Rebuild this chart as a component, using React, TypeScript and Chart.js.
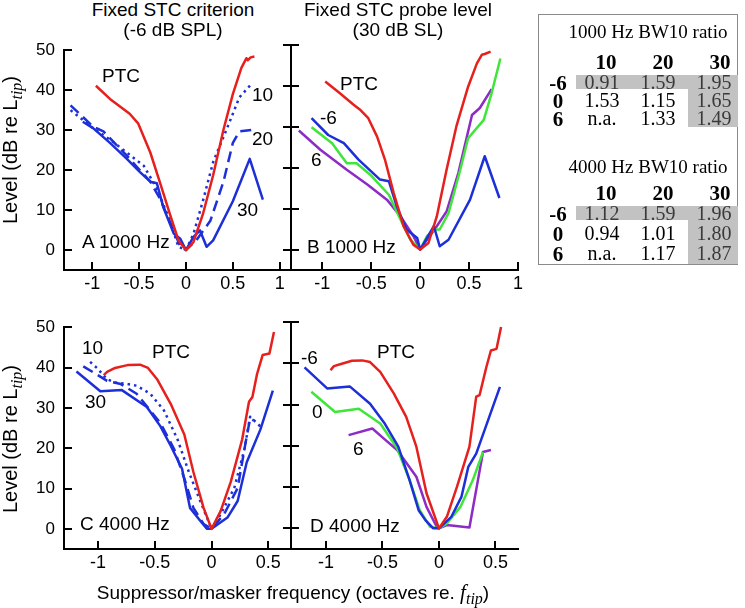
import React, { useEffect, useRef } from 'react';
import { Chart, registerables } from 'chart.js';
Chart.register(...registerables);

type Pts = [number, number][];

// ---------- data ----------
const X_TICKS_TOP = [-1, -0.5, 0, 0.5, 1];
const X_TICKS_BOTTOM = [-1, -0.5, 0, 0.5];
const Y_TICKS = [0, 10, 20, 30, 40, 50];

// Panel A: 1000 Hz, fixed STC criterion
const A_PTC: Pts = [[-0.96,41.1],[-0.81,37.8],[-0.60,34.1],[-0.51,31.7],[-0.38,24.4],[-0.28,17.1],[-0.17,8.9],[-0.08,2.4],[0,0],[0.08,2.0],[0.18,8.9],[0.29,18.7],[0.40,30.1],[0.50,39.0],[0.59,45.5],[0.645,48.0],[0.66,47.5],[0.69,48.2],[0.73,48.4]];
const A_10: Pts = [[-1.23,35.0],[-0.99,30.5],[-0.81,27.6],[-0.63,24.4],[-0.45,21.1],[-0.31,15.4],[-0.17,7.3],[-0.08,0.8],[0,0],[0.08,4.0],[0.18,12.2],[0.29,22.0],[0.43,30.0],[0.57,38.2],[0.70,41.6]];
const A_20: Pts = [[-1.23,36.2],[-0.99,30.9],[-0.88,29.7],[-0.63,23.6],[-0.38,17.1],[-0.28,13.0],[-0.13,4.9],[-0.06,0.8],[0,0],[0.11,2.4],[0.26,7.3],[0.40,17.1],[0.50,26.8],[0.57,29.7],[0.72,30.1]];
const A_30: Pts = [[-1.10,32.1],[-0.99,30.5],[-0.81,26.8],[-0.63,22.8],[-0.49,19.5],[-0.38,17.1],[-0.31,16.7],[-0.24,10.6],[-0.13,4.1],[-0.06,2.8],[0,0],[0.08,3.3],[0.15,4.9],[0.22,0.8],[0.29,2.4],[0.50,12.2],[0.68,22.8],[0.82,12.6]];

// Panel B: 1000 Hz, fixed STC probe level
const B_PTC: Pts = [[-0.97,41.1],[-0.82,38.2],[-0.68,35.4],[-0.61,34.1],[-0.53,32.1],[-0.44,27.6],[-0.36,22.0],[-0.27,13.8],[-0.17,5.7],[-0.07,1.2],[0,0],[0.085,1.6],[0.17,8.1],[0.27,19.5],[0.37,30.1],[0.49,39.8],[0.58,45.5],[0.63,47.6],[0.66,47.8],[0.72,48.4]];
const B_M6: Pts = [[-1.11,32.1],[-0.94,28.0],[-0.78,26.0],[-0.63,22.0],[-0.41,17.1],[-0.32,16.7],[-0.24,10.6],[-0.14,4.9],[-0.03,2.8],[0,0],[0.14,5.7],[0.20,0.8],[0.29,2.4],[0.51,12.2],[0.66,22.8],[0.81,12.6]];
const B_0: Pts = [[-1.11,29.9],[-0.90,26.0],[-0.75,21.1],[-0.65,21.1],[-0.51,18.3],[-0.32,13.4],[-0.20,7.3],[-0.10,2.4],[0,0],[0.07,3.3],[0.15,4.9],[0.20,4.9],[0.29,8.9],[0.41,19.5],[0.49,27.2],[0.65,31.7],[0.73,38.2],[0.82,46.7]];
const B_6: Pts = [[-1.24,29.1],[-1.02,24.4],[-0.75,19.5],[-0.54,15.9],[-0.34,12.2],[-0.20,8.1],[-0.07,3.3],[0,0],[0.07,2.4],[0.17,5.7],[0.27,9.3],[0.39,18.7],[0.53,32.9],[0.61,34.6],[0.73,39.2]];

// Panel C: 4000 Hz, fixed STC criterion
const C_PTC: Pts = [[-0.95,38.1],[-0.92,38.9],[-0.85,39.9],[-0.74,40.6],[-0.63,40.7],[-0.56,39.9],[-0.48,37.1],[-0.36,31.0],[-0.24,23.4],[-0.16,14.1],[-0.07,5.2],[0,0],[0.08,4.4],[0.17,11.7],[0.27,22.2],[0.33,31.5],[0.36,32.7],[0.40,38.3],[0.45,43.1],[0.51,43.5],[0.55,48.8]];
const C_10: Pts = [[-1.07,41.4],[-1.01,39.9],[-0.92,37.1],[-0.85,36.3],[-0.74,35.9],[-0.66,35.5],[-0.54,33.5],[-0.42,29.4],[-0.30,22.2],[-0.20,14.1],[-0.10,6.9],[0,0],[0.08,3.6],[0.20,10.1],[0.29,19.8],[0.34,27.8],[0.40,26.2],[0.43,25.4]];
const C_20: Pts = [[-1.13,40.3],[-0.92,36.7],[-0.80,35.9],[-0.66,33.5],[-0.45,26.2],[-0.33,19.8],[-0.24,12.5],[-0.16,5.2],[-0.07,1.2],[0,0],[0.11,3.6],[0.23,10.1],[0.30,21.4],[0.34,27.4],[0.37,26.9]];
const C_30: Pts = [[-1.19,39.0],[-0.98,34.1],[-0.79,34.4],[-0.57,30.2],[-0.45,25.4],[-0.36,20.6],[-0.26,14.9],[-0.19,5.2],[-0.10,2.0],[-0.04,0],[0,0],[0.14,2.8],[0.23,6.9],[0.31,16.5],[0.43,24.6],[0.54,34.3]];

// Panel D: 4000 Hz, fixed STC probe level
const D_PTC: Pts = [[-0.96,38.3],[-0.93,39.3],[-0.86,39.9],[-0.77,40.6],[-0.68,40.7],[-0.61,40.3],[-0.52,37.9],[-0.40,32.7],[-0.29,27.0],[-0.20,19.8],[-0.11,8.5],[0,0],[0.07,2.8],[0.16,10.1],[0.27,19.8],[0.33,31.9],[0.36,32.3],[0.42,39.1],[0.46,43.1],[0.51,43.5],[0.55,48.8]];
const D_M6: Pts = [[-1.19,39.0],[-0.99,33.9],[-0.79,34.4],[-0.61,30.2],[-0.48,25.4],[-0.36,19.8],[-0.26,11.7],[-0.18,4.4],[-0.12,2.0],[-0.05,0],[0,0],[0.11,2.8],[0.20,7.7],[0.26,14.9],[0.33,18.1],[0.54,34.3]];
const D_0: Pts = [[-1.13,33.1],[-0.92,28.2],[-0.71,29.0],[-0.52,25.4],[-0.37,19.4],[-0.26,11.7],[-0.17,4.4],[-0.08,0.4],[0,0],[0.07,1.2],[0.19,5.2],[0.30,11.7],[0.39,18.5]];
const D_6: Pts = [[-0.80,22.6],[-0.59,24.2],[-0.49,21.8],[-0.37,19.0],[-0.20,12.5],[-0.11,5.2],[-0.02,0.4],[0,0],[0.07,0.8],[0.27,0.2],[0.39,18.5],[0.46,19.0]];

// BW10 ratio tables
const BW_COLS = ['10', '20', '30'];
const BW_ROWS = ['-6', '0', '6'];
const BW_1000 = [['0.91', '1.59', '1.95'], ['1.53', '1.15', '1.65'], ['n.a.', '1.33', '1.49']];
const BW_4000 = [['1.12', '1.59', '1.96'], ['0.94', '1.01', '1.80'], ['n.a.', '1.17', '1.87']];

// ---------- styling ----------
const RED = '#e6201d';
const BLUE = '#1d2fd8';
const GREEN = '#3fe53b';
const PURPLE = '#8c2cc4';
const SANS = "'Liberation Sans', Arial, sans-serif";
const SERIF = "'Liberation Serif', 'Times New Roman', serif";

const tickMarks = {
  id: 'tickMarks',
  afterDraw(chart: any, _a: any, opts: any) {
    const { ctx, chartArea: a } = chart;
    const xs = chart.scales.x, ys = chart.scales.y;
    ctx.save();
    ctx.strokeStyle = '#000';
    ctx.lineWidth = 2;
    ctx.beginPath();
    xs.ticks.forEach((t: any) => {
      const px = Math.round(xs.getPixelForValue(t.value));
      ctx.moveTo(px, a.bottom);
      ctx.lineTo(px, a.bottom - opts.xIn);
    });
    ys.ticks.forEach((t: any) => {
      const py = Math.round(ys.getPixelForValue(t.value));
      ctx.moveTo(a.left - opts.yOut, py);
      ctx.lineTo(a.left + opts.yIn, py);
    });
    ctx.stroke();
    ctx.restore();
  },
};

function line(pts: Pts, color: string, style: string = 'solid') {
  return {
    data: pts.map(([x, y]) => ({ x, y })),
    borderColor: color,
    borderWidth: 2.5,
    pointRadius: 0,
    fill: false,
    tension: 0,
    borderDash: style === 'dot' ? [2.5, 4] : style === 'dash' ? [11, 6] : [],
    borderCapStyle: 'butt',
    borderJoinStyle: 'round',
  };
}

const PAD_L = 52, PAD_R = 14, PAD_T = 14, PAD_B = 32;

function Panel(props: {
  l: number; t: number; r: number; b: number;
  xMin: number; xMax: number; xTicks: number[];
  yLabels: boolean; yOut: number; datasets: any[];
}) {
  const ref = useRef<HTMLCanvasElement>(null);
  const w = props.r - props.l + PAD_L + PAD_R;
  const h = props.b - props.t + PAD_T + PAD_B;
  useEffect(() => {
    const chart = new Chart(ref.current as HTMLCanvasElement, {
      type: 'line',
      data: { datasets: props.datasets },
      plugins: [tickMarks as any],
      options: {
        animation: false,
        responsive: false,
        maintainAspectRatio: false,
        devicePixelRatio: 1,
        events: [],
        layout: { padding: { top: PAD_T, right: PAD_R, left: 0, bottom: 0 } },
        plugins: {
          legend: { display: false },
          tooltip: { enabled: false },
          tickMarks: { xIn: 8, yIn: 8, yOut: props.yOut },
        } as any,
        scales: {
          x: {
            type: 'linear',
            min: props.xMin,
            max: props.xMax,
            afterBuildTicks: (s: any) => { s.ticks = props.xTicks.map((v) => ({ value: v })); },
            afterFit: (s: any) => { s.height = PAD_B; },
            grid: { display: false, drawTicks: false },
            border: { display: true, color: '#000', width: 2 },
            ticks: {
              color: '#000',
              padding: 3,
              maxRotation: 0,
              autoSkip: false,
              font: { family: SANS, size: 18 },
              callback: (v: any) => String(v),
            },
          },
          y: {
            type: 'linear',
            min: -5,
            max: 50,
            afterBuildTicks: (s: any) => { s.ticks = Y_TICKS.map((v) => ({ value: v })); },
            afterFit: (s: any) => { s.width = PAD_L; },
            grid: { display: false, drawTicks: false },
            border: { display: true, color: '#000', width: 2 },
            ticks: {
              display: props.yLabels,
              color: '#000',
              padding: 9,
              font: { family: SANS, size: 17 },
              callback: (v: any) => String(v),
            },
          },
        },
      } as any,
    });
    return () => chart.destroy();
  }, []);
  return (
    <canvas
      ref={ref}
      width={w}
      height={h}
      style={{ position: 'absolute', left: props.l - PAD_L, top: props.t - PAD_T, width: w, height: h }}
    />
  );
}

function Txt(props: { x: number; y: number; children: any; center?: boolean }) {
  return (
    <div
      style={{
        position: 'absolute',
        left: props.center ? props.x - 150 : props.x,
        top: props.y - 10,
        width: props.center ? 300 : undefined,
        textAlign: props.center ? 'center' : 'left',
        font: `19px ${SANS}`,
        lineHeight: '20px',
        whiteSpace: 'nowrap',
        color: '#000',
      }}
    >
      {props.children}
    </div>
  );
}

function Tip() {
  return (
    <span style={{ fontFamily: SERIF, fontStyle: 'italic', fontSize: '16px', position: 'relative', top: '5px' }}>tip</span>
  );
}

function YLabel(props: { cy: number }) {
  return (
    <div
      style={{
        position: 'absolute',
        left: 11 - 120,
        top: props.cy - 12,
        width: 240,
        height: 24,
        lineHeight: '24px',
        textAlign: 'center',
        font: `20px ${SANS}`,
        transform: 'rotate(-90deg)',
        whiteSpace: 'nowrap',
      }}
    >
      Level (dB re L<Tip />)
    </div>
  );
}

function BWTable(props: {
  title: string; titleY: number; headY: number; rowY: number[]; vals: string[][];
  bandTop: number; bandBottom: number; colBottom: number;
}) {
  const headX = [606, 663, 720];
  const valX = [602, 658, 714];
  const cell = (x: number, y: number, s: string, bold: boolean, gray: boolean, key: string) => (
    <div
      key={key}
      style={{
        position: 'absolute', left: x - 40, top: y - 11, width: 80, lineHeight: '22px', textAlign: 'center',
        font: `${bold ? 'bold 21px' : '20px'} ${SERIF}`, color: gray ? '#3a3a3a' : '#000', whiteSpace: 'nowrap',
      }}
    >
      {s}
    </div>
  );
  return (
    <>
      <div style={{ position: 'absolute', left: 576, top: props.bandTop, width: 162, height: props.bandBottom - props.bandTop, background: '#c2c2c2' }} />
      <div style={{ position: 'absolute', left: 688, top: props.bandTop, width: 50, height: props.colBottom - props.bandTop, background: '#c2c2c2' }} />
      <div style={{ position: 'absolute', left: 548, top: props.titleY - 11, width: 200, lineHeight: '22px', textAlign: 'center', font: `19px ${SERIF}`, whiteSpace: 'nowrap' }}>
        {props.title}
      </div>
      {BW_COLS.map((c, i) => cell(headX[i], props.headY, c, true, false, 'h' + i))}
      {BW_ROWS.map((r, j) => cell(558, props.rowY[j], r, true, false, 'r' + j))}
      {props.vals.map((row, j) => row.map((v, i) => cell(valX[i], props.rowY[j], v, false, j === 0 || i === 2, 'v' + j + i)))}
    </>
  );
}

export default function App() {
  return (
    <div style={{ position: 'fixed', left: 0, top: 0, width: 745, height: 608, background: '#fff', overflow: 'hidden' }}>
      <Panel l={64} t={45} r={291} b={270} xMin={-1.3} xMax={1.12} xTicks={X_TICKS_TOP} yLabels={true} yOut={0}
        datasets={[line(A_PTC, RED), line(A_10, BLUE, 'dot'), line(A_20, BLUE, 'dash'), line(A_30, BLUE)]} />
      <Panel l={291} t={45} r={518} b={270} xMin={-1.32} xMax={1.0} xTicks={X_TICKS_TOP} yLabels={false} yOut={8}
        datasets={[line(B_PTC, RED), line(B_M6, BLUE), line(B_0, GREEN), line(B_6, PURPLE)]} />
      <Panel l={64} t={322} r={291} b={549} xMin={-1.30} xMax={0.70} xTicks={X_TICKS_BOTTOM} yLabels={true} yOut={0}
        datasets={[line(C_PTC, RED), line(C_10, BLUE, 'dot'), line(C_20, BLUE, 'dash'), line(C_30, BLUE)]} />
      <Panel l={291} t={322} r={518} b={549} xMin={-1.31} xMax={0.70} xTicks={X_TICKS_BOTTOM} yLabels={false} yOut={8}
        datasets={[line(D_PTC, RED), line(D_M6, BLUE), line(D_0, GREEN), line(D_6, PURPLE)]} />

      <Txt x={173} y={10} center>Fixed STC criterion</Txt>
      <Txt x={173} y={30} center>(-6 dB SPL)</Txt>
      <Txt x={398} y={10} center>Fixed STC probe level</Txt>
      <Txt x={398} y={30} center>(30 dB SL)</Txt>

      <Txt x={102} y={76}>PTC</Txt>
      <Txt x={252} y={95}>10</Txt>
      <Txt x={252} y={139}>20</Txt>
      <Txt x={237} y={210}>30</Txt>
      <Txt x={82} y={242}>A 1000 Hz</Txt>

      <Txt x={340} y={84}>PTC</Txt>
      <Txt x={320} y={118}>-6</Txt>
      <Txt x={311} y={160}>6</Txt>
      <Txt x={307} y={247}>B 1000 Hz</Txt>

      <Txt x={82} y={348}>10</Txt>
      <Txt x={152} y={352}>PTC</Txt>
      <Txt x={85} y={402}>30</Txt>
      <Txt x={80} y={524}>C 4000 Hz</Txt>

      <Txt x={301} y={358}>-6</Txt>
      <Txt x={377} y={352}>PTC</Txt>
      <Txt x={312} y={412}>0</Txt>
      <Txt x={353} y={449}>6</Txt>
      <Txt x={310} y={526}>D 4000 Hz</Txt>

      <YLabel cy={150} />
      <YLabel cy={439} />
      <div style={{ position: 'absolute', left: 93, top: 580, width: 400, textAlign: 'center', font: `19px ${SANS}`, lineHeight: '24px', whiteSpace: 'nowrap' }}>
        Suppressor/masker frequency (octaves re. <span style={{ fontFamily: SERIF, fontStyle: 'italic', fontSize: '21px' }}>f</span><Tip />)
      </div>

      <div style={{ position: 'absolute', left: 538, top: 14, width: 200, height: 251, border: '1.5px solid #8a8a8a', boxSizing: 'border-box' }} />
      <BWTable title="1000 Hz BW10 ratio" titleY={32} headY={61} rowY={[82, 100, 118]} vals={BW_1000} bandTop={75} bandBottom={89} colBottom={127} />
      <BWTable title="4000 Hz BW10 ratio" titleY={167} headY={192} rowY={[213, 233, 253]} vals={BW_4000} bandTop={206} bandBottom={220} colBottom={264} />
    </div>
  );
}
